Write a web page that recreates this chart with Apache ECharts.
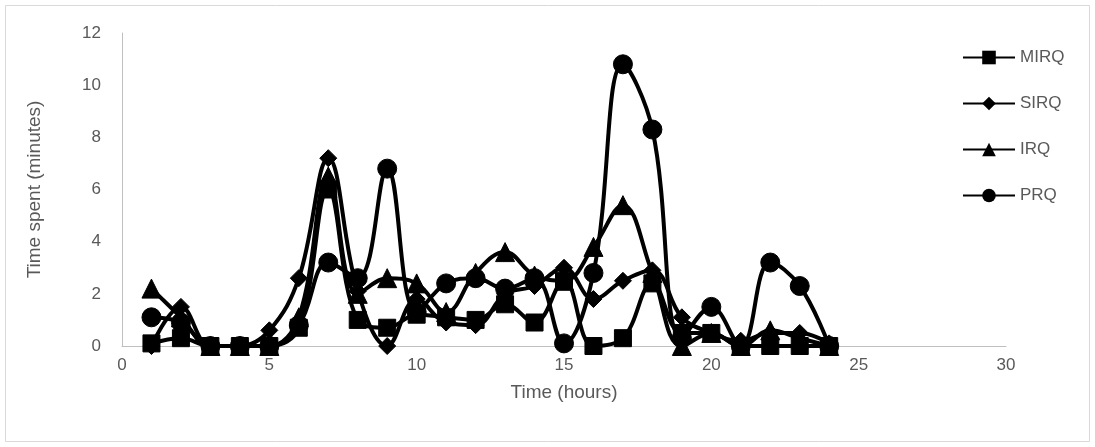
<!DOCTYPE html>
<html><head><meta charset="utf-8">
<script src="https://cdn.jsdelivr.net/npm/echarts@6/dist/echarts.min.js"></script>
<style>html,body{margin:0;padding:0;background:#fff}#c{width:1095px;height:447px}</style>
</head><body><div id="c"></div>
<script>
const hours = [1,2,3,4,5,6,7,8,9,10,11,12,13,14,15,16,17,18,19,20,21,22,23,24];
const MIRQ = [0.1,0.3,0,0,0,0.7,6.0,1.0,0.7,1.2,1.1,1.0,1.6,0.9,2.5,0,0.3,2.4,0.5,0.5,0,0,0,0];
const SIRQ = [0,1.5,0,0,0.6,2.6,7.2,2.1,0,1.8,0.9,0.8,2.0,2.3,3.0,1.8,2.5,2.9,1.1,0.5,0.2,0.5,0.5,0.1];
const IRQ  = [2.2,1.1,0,0,0,1.1,6.5,2.0,2.6,2.4,1.3,2.8,3.6,2.7,2.5,3.8,5.4,2.8,0,0.5,0,0.6,0.3,0];
const PRQ  = [1.1,0.9,0,0,0,0.8,3.2,2.6,6.8,1.3,2.4,2.6,2.2,2.6,0.1,2.8,10.8,8.3,0.3,1.5,0,3.2,2.3,0];
const seriesNames = ['MIRQ','SIRQ','IRQ','PRQ'];
const seriesData = [MIRQ, SIRQ, IRQ, PRQ];
const symbols = ['rect','diamond','triangle','circle'];
const symbolSizes = [17,17,19,19];
const xTicks = {min:0, max:30, interval:5};
const yTicks = {min:0, max:12, interval:2};

const font = 'Liberation Sans';
const txt = '#595959';
const chart = echarts.init(document.getElementById('c'), null, {renderer:'canvas'});
chart.setOption({
  animation:false,
  backgroundColor:'#fff',
  graphic:[{type:'rect', shape:{x:5.5,y:5.5,width:1084,height:436}, style:{fill:'none', stroke:'#d9d9d9', lineWidth:1}}],
  grid:{left:122, right:89, top:33, bottom:101, containLabel:false},
  legend:{
    orient:'vertical', left:957, top:44, itemWidth:52, itemHeight:17, itemGap:29,
    textStyle:{color:txt, fontFamily:font, fontSize:17},
    data:seriesNames
  },
  xAxis:{
    type:'value', min:xTicks.min, max:xTicks.max, interval:xTicks.interval,
    name:'Time (hours)', nameLocation:'middle', nameGap:37,
    nameTextStyle:{color:txt, fontFamily:font, fontSize:19},
    axisLine:{show:true, lineStyle:{color:'#bfbfbf', width:1}},
    axisTick:{show:false}, splitLine:{show:false},
    axisLabel:{color:txt, fontFamily:font, fontSize:17, margin:11}
  },
  yAxis:{
    type:'value', min:yTicks.min, max:yTicks.max, interval:yTicks.interval,
    name:'Time spent (minutes)', nameLocation:'middle', nameGap:78, nameRotate:90,
    nameTextStyle:{color:txt, fontFamily:font, fontSize:19},
    axisLine:{show:true, lineStyle:{color:'#bfbfbf', width:1}},
    axisTick:{show:false}, splitLine:{show:false},
    axisLabel:{color:txt, fontFamily:font, fontSize:17, margin:21}
  },
  series: seriesNames.map((n,i)=>({
    name:n, type:'line', smooth:0.4,
    data: hours.map((h,j)=>[h, seriesData[i][j]]),
    symbol:symbols[i], symbolSize:symbolSizes[i], showAllSymbol:true,
    lineStyle:{color:'#000', width:4},
    itemStyle:{color:'#000', borderColor:'#000'},
    z: 2+i
  }))
});
</script></body></html>
